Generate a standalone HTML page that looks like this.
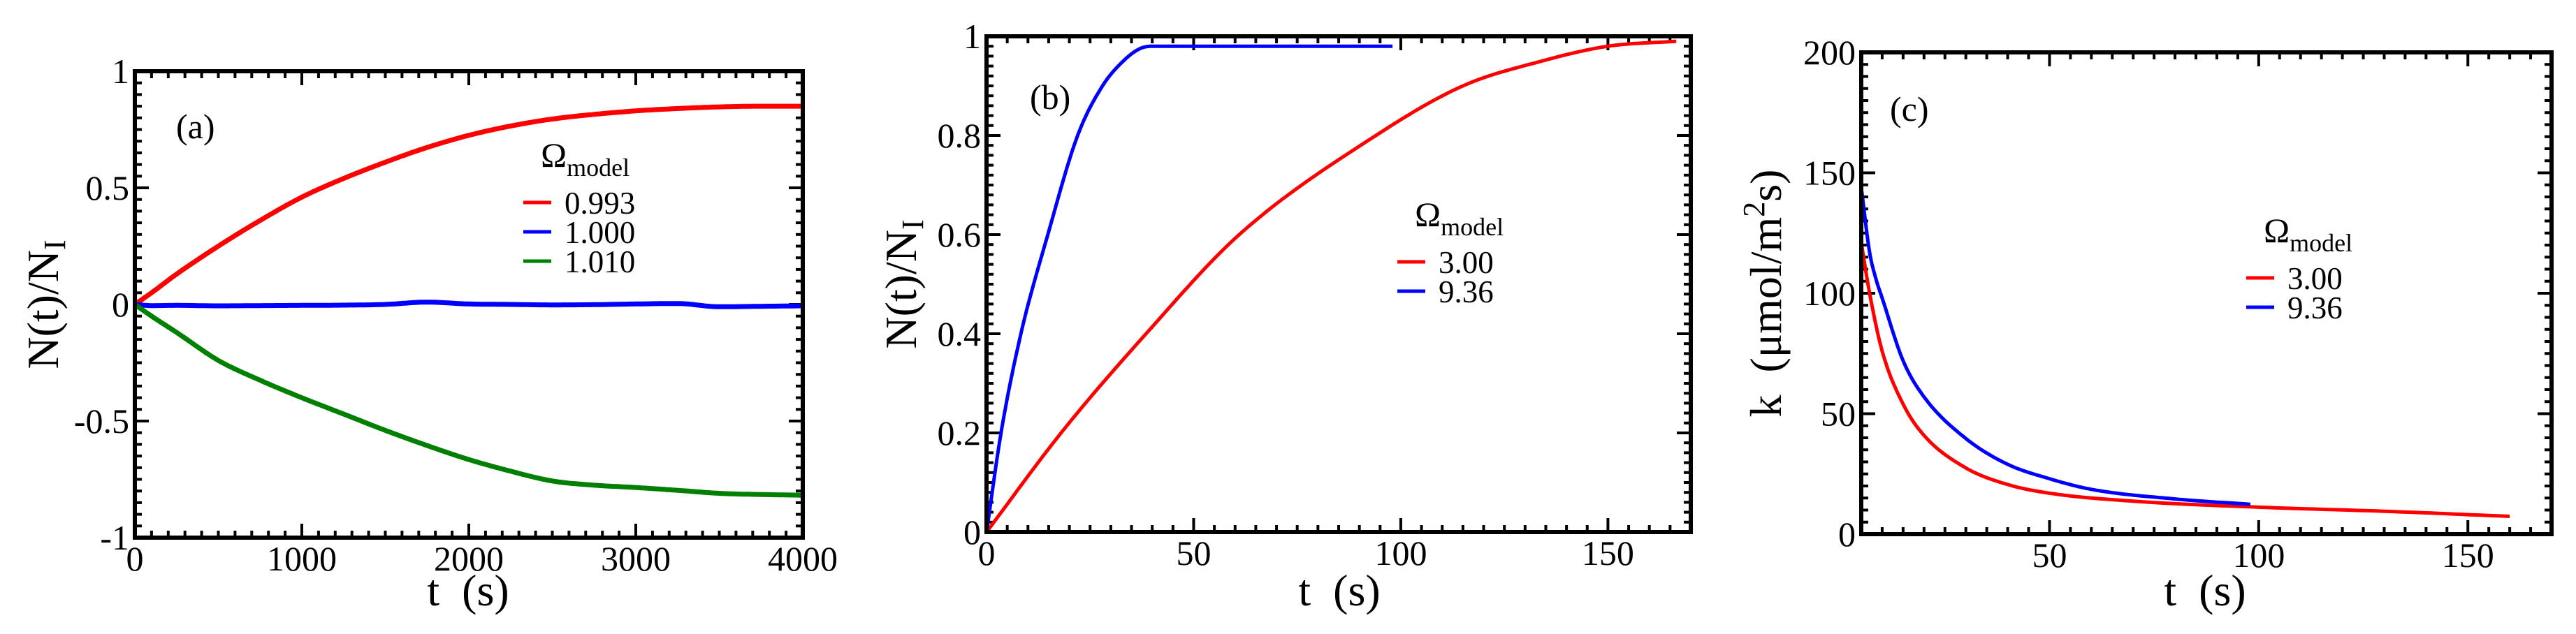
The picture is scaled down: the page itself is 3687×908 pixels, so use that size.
<!DOCTYPE html>
<html><head><meta charset="utf-8"><style>
html,body{margin:0;padding:0;background:#fff}
svg{display:block}
svg, svg text, svg tspan{font-family:"Liberation Serif","DejaVu Serif","Times New Roman",Times,serif}
text{fill:#000}
</style></head><body>
<svg id="fig" width="3687" height="908" viewBox="0 0 3687 908" xmlns="http://www.w3.org/2000/svg"></svg>
<script>
// ---- Panel (a) data ----
const aTime = [0,100,250,500,750,1000,1250,1500,1750,2000,2250,2500,2750,3000,3250,3500,3750,4000];
const aRed  = [0,0.05,0.13,0.25,0.36,0.46,0.54,0.61,0.673,0.725,0.765,0.795,0.815,0.83,0.84,0.847,0.85,0.85];
const aBlue = [0,-0.005,-0.004,-0.006,-0.005,-0.004,-0.003,0.0,0.01,0.002,0.0,-0.002,-0.001,0.002,0.004,-0.01,-0.008,-0.006];
const aGreen= [0,-0.05,-0.12,-0.24,-0.325,-0.40,-0.47,-0.54,-0.605,-0.665,-0.715,-0.757,-0.775,-0.785,-0.797,-0.81,-0.815,-0.818];
const aXTicks = [0,1000,2000,3000,4000];
const aYTicks = [-1,-0.5,0,0.5,1];
const aXLabels = ["0","1000","2000","3000","4000"];
const aYLabels = ["-1","-0.5","0","0.5","1"];
const aLegend = ["0.993","1.000","1.010"];
// ---- Panel (b) data ----
const bBlueT = [0,3.5,8.3,14.8,22,28,33,37,40,98];
const bBlueN = [0,0.2,0.4,0.6,0.8,0.9,0.95,0.975,0.98,0.98];
const bRedT  = [0,18,38.5,61,94,115,134,150,166.5];
const bRedN  = [0,0.2,0.4,0.6,0.8,0.9,0.95,0.98,0.99];
const bXTicks = [0,50,100,150];
const bYTicks = [0,0.2,0.4,0.6,0.8,1];
const bXLabels = ["0","50","100","150"];
const bYLabels = ["0","0.2","0.4","0.6","0.8","1"];
const bLegend = ["3.00","9.36"];
// ---- Panel (c) data ----
const cBlueT = [5,7,8.5,10,15,20,30,40,50,60,80,98];
const cBlueK = [144,117,106,98,72,57,39.7,29,23,18.6,14.6,12.4];
const cRedT  = [5,7,10,15,20,30,40,50,70,100,130,160];
const cRedK  = [121,100,76,54,41,27.5,20.6,17,13.7,11.2,9.5,7.4];
const cXTicks = [50,100,150];
const cYTicks = [0,50,100,150,200];
const cXLabels = ["50","100","150"];
const cYLabels = ["0","50","100","150","200"];
const cLegend = ["3.00","9.36"];

const NS="http://www.w3.org/2000/svg";
const fig=document.getElementById('fig');
function mk(tag,attrs,parent){const e=document.createElementNS(NS,tag);for(const k in attrs)e.setAttribute(k,attrs[k]);(parent||fig).appendChild(e);return e;}
function monoPath(xs,ys,sx,sy){
  const n=xs.length,d=[],m=new Array(n);
  for(let i=0;i<n-1;i++)d.push((ys[i+1]-ys[i])/(xs[i+1]-xs[i]));
  m[0]=d[0];m[n-1]=d[n-2];
  for(let i=1;i<n-1;i++){m[i]=(d[i-1]*d[i]<=0)?0:(d[i-1]+d[i])/2;}
  for(let i=0;i<n-1;i++){if(d[i]===0){m[i]=0;m[i+1]=0;continue;}const a=m[i]/d[i],b=m[i+1]/d[i],s=a*a+b*b;if(s>9){const t=3/Math.sqrt(s);m[i]=t*a*d[i];m[i+1]=t*b*d[i];}}
  let p='M'+sx(xs[0]).toFixed(1)+','+sy(ys[0]).toFixed(1);
  for(let i=0;i<n-1;i++){const h=xs[i+1]-xs[i];
    for(let k=1;k<=16;k++){const t=k/16,t2=t*t,t3=t2*t;
      const y=(2*t3-3*t2+1)*ys[i]+(t3-2*t2+t)*h*m[i]+(-2*t3+3*t2)*ys[i+1]+(t3-t2)*h*m[i+1];
      p+='L'+sx(xs[i]+t*h).toFixed(1)+','+sy(y).toFixed(1);}}
  return p;
}

function panel(P){
  const g=mk('g',{});
  
  
  const sx=v=>P.L+(v-P.x0)/(P.x1-P.x0)*(P.R-P.L);
  const sy=v=>P.B-(v-P.y0)/(P.y1-P.y0)*(P.B-P.T);
  for(let v=P.x0;v<=P.x1+1e-9;v+=P.xm){const big=Math.abs(v/P.xM-Math.round(v/P.xM))<1e-6;const len=big?20:10;const x=sx(v);
    mk('line',{x1:x,x2:x,y1:P.B,y2:P.B-len,stroke:'#000','stroke-width':4},g);
    mk('line',{x1:x,x2:x,y1:P.T,y2:P.T+len,stroke:'#000','stroke-width':4},g);}
  for(let v=P.y0;v<=P.y1+1e-9;v+=P.ym){const big=Math.abs(v/P.yM-Math.round(v/P.yM))<1e-6;const len=big?20:10;const y=sy(v);
    mk('line',{x1:P.L,x2:P.L+len,y1:y,y2:y,stroke:'#000','stroke-width':4},g);
    mk('line',{x1:P.R,x2:P.R-len,y1:y,y2:y,stroke:'#000','stroke-width':4},g);}
  P.series.forEach(s=>{
    const p=mk('path',{d:monoPath(s.xs,s.ys,sx,sy),fill:'none',stroke:s.color,'stroke-width':s.w,'stroke-linejoin':'round'},g);
    
    
  });
  const frame=mk('rect',{x:P.L,y:P.T,width:P.R-P.L,height:P.B-P.T,fill:'none',stroke:'#000','stroke-width':6},g);
  
  
  P.xt.forEach((v,i)=>{const t=mk('text',{x:sx(v),y:P.B+47,'font-size':50,'text-anchor':'middle'},g);t.textContent=P.xl[i];
    
    });
  P.yt.forEach((v,i)=>{const t=mk('text',{x:P.L-8,y:sy(v)+17,'font-size':50,'text-anchor':'end'},g);t.textContent=P.yl[i];
    
    });
  const xt=mk('text',{x:P.xtx,y:867,'font-size':64,'text-anchor':'middle'},g);
  xt.textContent='t\u00a0\u00a0(s)';
  
  
  const yt=mk('text',{x:0,y:0,'font-size':64,'text-anchor':'middle','transform':`translate(${P.ytx},${(P.T+P.B)/2}) rotate(-90)`},g);
  yt.innerHTML=P.ytitle;
  
  
  const pl=mk('text',{x:P.lab[0],y:P.lab[1],'font-size':50},g);pl.textContent=P.labText;
  
  
  const lg=mk('g',{},g);
  
  
  const om=mk('text',{x:P.leg.x+25,y:P.leg.y,'font-size':50},lg);
  om.innerHTML='Ω<tspan font-size="36" dy="13">model</tspan>';
  
  
  P.legend.forEach((lbl,i)=>{
    const y=P.leg.y+51+i*42;
    const ln=mk('line',{x1:P.leg.x,x2:P.leg.x+40,y1:y,y2:y,stroke:P.legColors[i],'stroke-width':5},lg);
    
    
    const t=mk('text',{x:P.leg.x+59,y:y+16,'font-size':45},lg);t.textContent=lbl;
    
    
  });
}

panel({name:'panel-a',L:193,R:1149,T:102,B:770,x0:0,x1:4000,y0:-1,y1:1,xm:100,xM:1000,ym:0.05,yM:0.5,
  xt:aXTicks,xl:aXLabels,yt:aYTicks,yl:aYLabels,xtx:670,ytx:83,
  ytitle:'N(t)/N<tspan font-size="44" dy="10">I</tspan>',lab:[252,198],labText:'(a)',
  leg:{x:749,y:239},legend:aLegend,legColors:['#ff0000','#0000ff','#008000'],
  series:[{name:'series-0993',xs:aTime,ys:aRed,color:'#ff0000',w:7},
          {name:'series-1000',xs:aTime,ys:aBlue,color:'#0000ff',w:7},
          {name:'series-1010',xs:aTime,ys:aGreen,color:'#008000',w:7}]});
panel({name:'panel-b',L:1412,R:2420,T:52,B:762,x0:0,x1:170,y0:0,y1:1,xm:5,xM:50,ym:0.02,yM:0.2,
  xt:bXTicks,xl:bXLabels,yt:bYTicks,yl:bYLabels,xtx:1917,ytx:1311,
  ytitle:'N(t)/N<tspan font-size="44" dy="10">I</tspan>',lab:[1474,156],labText:'(b)',
  leg:{x:2000,y:324},legend:bLegend,legColors:['#ff0000','#0000ff'],
  series:[{name:'series-300',xs:bRedT,ys:bRedN,color:'#ff0000',w:5},
          {name:'series-936',xs:bBlueT,ys:bBlueN,color:'#0000ff',w:5}]});
panel({name:'panel-c',L:2664,R:3652,T:75,B:765,x0:5,x1:170,y0:0,y1:200,xm:5,xM:50,ym:5,yM:50,
  xt:cXTicks,xl:cXLabels,yt:cYTicks,yl:cYLabels,xtx:3156,ytx:2549,
  ytitle:'k\u00a0\u00a0(μmol/m<tspan font-size="44" dy="-24">2</tspan><tspan dy="24">s)</tspan>',lab:[2705,173],labText:'(c)',
  leg:{x:3215,y:347},legend:cLegend,legColors:['#ff0000','#0000ff'],
  series:[{name:'series-300',xs:cRedT,ys:cRedK,color:'#ff0000',w:5},
          {name:'series-936',xs:cBlueT,ys:cBlueK,color:'#0000ff',w:5}]});
</script>
</body></html>
